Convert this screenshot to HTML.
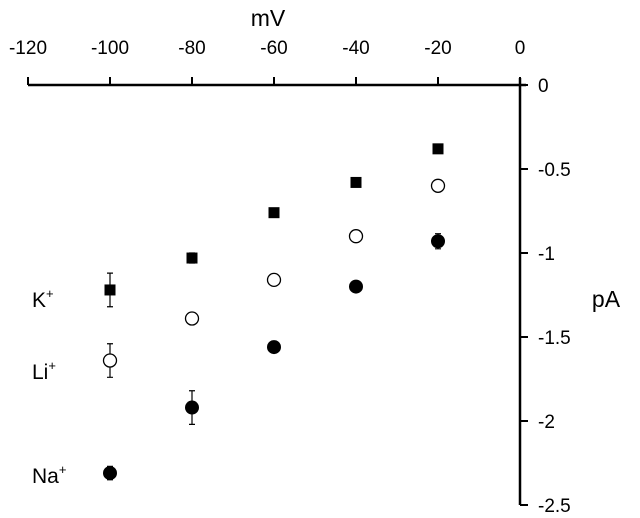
<!DOCTYPE html>
<html><head><meta charset="utf-8"><style>
body{margin:0;background:#fff}
text{font-family:"Liberation Sans",sans-serif;fill:#000}
</style></head><body>
<svg id="chart" width="640" height="513" viewBox="0 0 640 513" xmlns="http://www.w3.org/2000/svg">
<g id="axes"></g><g id="marks"></g>
<text x="268" y="26" font-size="23" text-anchor="middle">mV</text>
<text x="606" y="307" font-size="23" text-anchor="middle">pA</text>
<text x="32" y="307" font-size="21">K<tspan font-size="13" dy="-9">+</tspan></text>
<text x="32" y="379" font-size="21">Li<tspan font-size="13" dy="-9">+</tspan></text>
<text x="32" y="483" font-size="21">Na<tspan font-size="13" dy="-9">+</tspan></text>
</svg>
<script>
const voltages=[-100,-80,-60,-40,-20];
const kVals=[-1.22,-1.03,-0.76,-0.58,-0.38];
const kErr=[0.1,0.03,0.02,0.02,0.02];
const liVals=[-1.64,-1.39,-1.16,-0.90,-0.60];
const liErr=[0.1,0.03,0.03,0.03,0.03];
const naVals=[-2.31,-1.92,-1.56,-1.20,-0.93];
const naErr=[0.04,0.1,0.035,0.02,0.045];
const xTicks=[-120,-100,-80,-60,-40,-20,0];
const yTicks=[0,-0.5,-1,-1.5,-2,-2.5];
const yTickLabels=["0","-0.5","-1","-1.5","-2","-2.5"];
const NS="http://www.w3.org/2000/svg";
const X=v=>520+v*4.1, Y=v=>85-v*168;
const axes=document.getElementById('axes'), marks=document.getElementById('marks');
function mk(p,tag,a){const e=document.createElementNS(NS,tag);for(const k in a)e.setAttribute(k,a[k]);p.appendChild(e);return e;}
let e=mk(axes,'line',{x1:X(-120),y1:85,x2:X(0)+6,y2:85,stroke:'#000','stroke-width':2.5});


e=mk(axes,'line',{x1:520,y1:78,x2:520,y2:Y(-2.5),stroke:'#000','stroke-width':2.5});


xTicks.forEach(t=>{
 const l=mk(axes,'line',{x1:X(t),y1:85,x2:X(t),y2:77,stroke:'#000','stroke-width':2});
 
 
 const tx=mk(axes,'text',{x:X(t),y:54,'font-size':19,'text-anchor':'middle'});tx.textContent=t;
 
 
});
yTicks.forEach((t,i)=>{
 const l=mk(axes,'line',{x1:520,y1:Y(t),x2:528,y2:Y(t),stroke:'#000','stroke-width':2});
 
 
 const tx=mk(axes,'text',{x:538,y:Y(t)+7,'font-size':19});tx.textContent=yTickLabels[i];
 
 
});
function series(vals,errs,kind,name){
 vals.forEach((v,i)=>{
  const cx=X(voltages[i]),cy=Y(v);
  const eb=mk(marks,'path',{d:`M${cx},${Y(v+errs[i])}V${Y(v-errs[i])}M${cx-3},${Y(v+errs[i])}h6M${cx-3},${Y(v-errs[i])}h6`,stroke:'#000','stroke-width':1.2,fill:'none'});
  
  
  let m;
  if(kind==='sq') m=mk(marks,'rect',{x:cx-5.5,y:cy-5.5,width:11,height:11,fill:'#000'});
  else if(kind==='open') m=mk(marks,'circle',{cx,cy,r:6.5,fill:'#fff',stroke:'#000','stroke-width':1.3});
  else m=mk(marks,'circle',{cx,cy,r:7,fill:'#000'});
  
  
 });
}
series(kVals,kErr,'sq','k');
series(liVals,liErr,'open','li');
series(naVals,naErr,'fill','na');
</script>
</body></html>
